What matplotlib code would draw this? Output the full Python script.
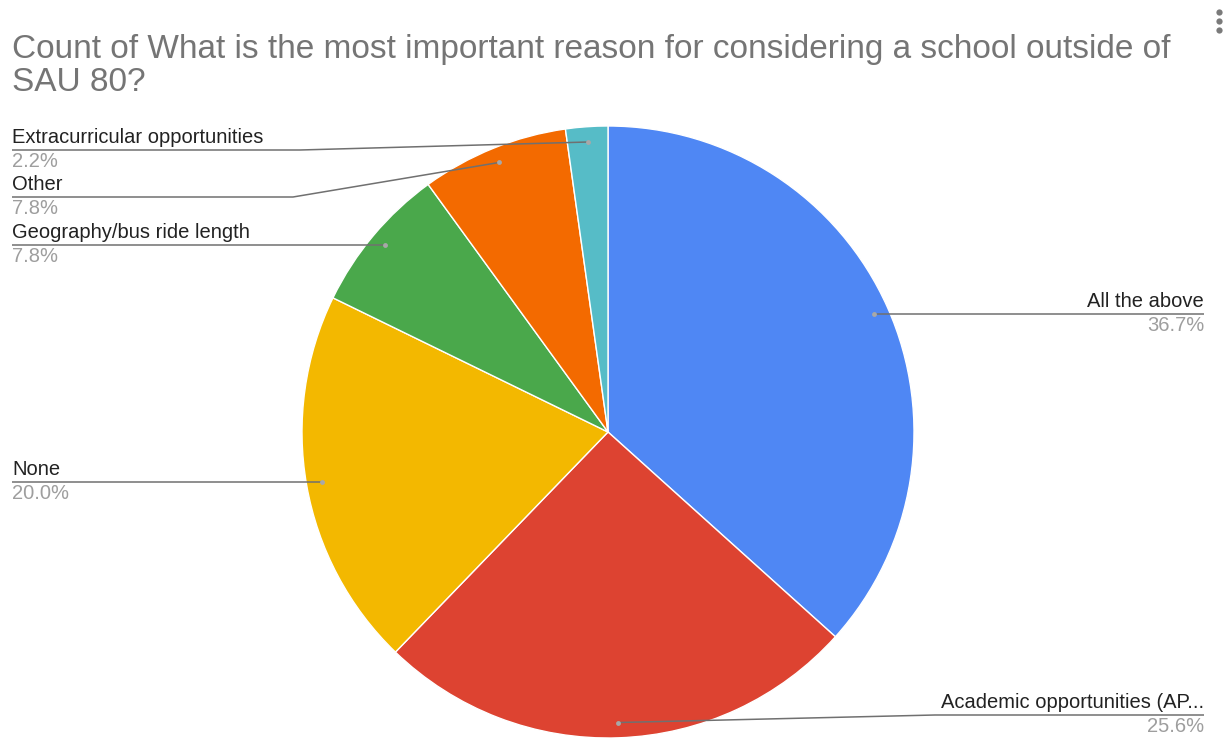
import numpy as np
import matplotlib
matplotlib.use("Agg")
import matplotlib.pyplot as plt

# Survey responses (counts) in clockwise order from 12 o'clock
categories = ["All the above", "Academic opportunities (AP...", "None",
              "Geography/bus ride length", "Other", "Extracurricular opportunities"]
counts = [33, 23, 18, 7, 7, 2]
colors = ["#4F87F4", "#DD4331", "#F3B800", "#4AA84B", "#F36A00", "#56BCC7"]

title_lines = ["Count of What is the most important reason for considering a school outside of",
               "SAU 80?"]

W, H = 1227, 741
fig = plt.figure(figsize=(W / 100, H / 100), dpi=100)
ax = fig.add_axes([0, 0, 1, 1])

def Y(py):
    return H - py

cx, cy, R = 608, Y(432), 306
wedges, _ = ax.pie(counts, colors=colors, startangle=90, counterclock=False,
                   center=(cx, cy), radius=R,
                   wedgeprops=dict(edgecolor="white", linewidth=1.0))
ax.set_xlim(0, W)
ax.set_ylim(0, H)
ax.set_aspect("equal")
ax.axis("off")

total = sum(counts)
font = "Liberation Sans"

# Label layout: side, leader-line y (None = level with the dot), knee x
layout = {
    "All the above": ("right", None, None),
    "Academic opportunities (AP...": ("right", 715, 935),
    "None": ("left", None, None),
    "Geography/bus ride length": ("left", None, None),
    "Other": ("left", 197, 293),
    "Extracurricular opportunities": ("left", 150, 300),
}
x_left, x_right = 12, 1204

for w, name, c in zip(wedges, categories, counts):
    mid = np.deg2rad((w.theta1 + w.theta2) / 2)
    dx = cx + 0.95 * R * np.cos(mid)
    dy = cy + 0.95 * R * np.sin(mid)
    side, ly, knee = layout[name]
    ly = dy if ly is None else Y(ly)
    if side == "left":
        xs = [x_left] + ([knee] if knee else []) + [dx]
        ys = [ly] + ([ly] if knee else []) + [dy]
        tx, ha = x_left, "left"
    else:
        xs = [dx] + ([knee] if knee else []) + [x_right]
        ys = [dy] + ([ly] if knee else []) + [ly]
        tx, ha = x_right, "right"
    ax.plot(xs, ys, color="#707070", lw=1.1, solid_capstyle="butt", zorder=3)
    ax.plot([dx], [dy], "o", ms=3.5, color="#a8a8a8", mec="none", zorder=4)
    ax.text(tx, ly + 3, name, ha=ha, va="bottom", fontsize=14.5,
            family=font, color="#222222")
    ax.text(tx, ly - 2, f"{c / total * 100:.1f}%", ha=ha, va="top",
            fontsize=14.5, family=font, color="#9e9e9e")

for line, base in zip(title_lines, [58, 91]):
    ax.text(12, Y(base), line, ha="left", va="baseline", fontsize=24,
            family=font, color="#757575")

# Menu dots in the top-right corner
ax.plot([1219, 1219, 1219], [Y(12), Y(21), Y(30)], "o", ms=4.5,
        color="#7a7a7a", mec="none")

fig.savefig("out.png", dpi=100, facecolor="white")
